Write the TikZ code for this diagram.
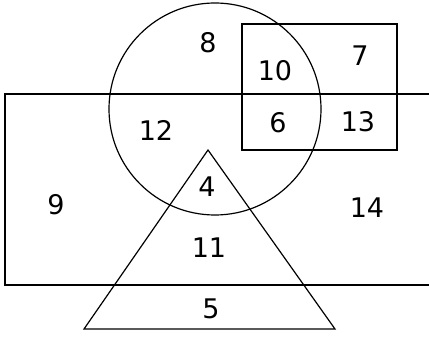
\documentclass[tikz,border=0pt]{standalone}
\usepackage{fontspec}
\setmainfont{DejaVu Sans}
\begin{document}
\begin{tikzpicture}[x=1pt,y=-1pt,
  thick box/.style={draw=black,line width=2.3pt},
  thin shape/.style={draw=black,line width=1.2pt},
  lbl/.style={font=\fontsize{27}{27}\selectfont,inner sep=0pt}]
\useasboundingbox (0,0) rectangle (429,339);
\clip (0,0) rectangle (429,339);
% big rectangle (runs off right edge)
\draw[thick box] (440,94) -- (5,94) -- (5,285) -- (440,285);
% small rectangle
\draw[thick box] (242,24) rectangle (397,150);
% circle
\draw[thin shape] (215,109) circle[radius=106];
% triangle
\coordinate (apex) at (208,150);
\coordinate (bl) at (84,329);
\coordinate (br) at (335,329);
\draw[thin shape] (apex) -- (bl) -- (br) -- cycle;
% labels
\node[lbl] (n8) at (208,43) {8};
\node[lbl] (n10) at (275,71) {10};
\node[lbl] (n7) at (360,56) {7};
\node[lbl] (n12) at (156,130) {12};
\node[lbl] (n6) at (278,123) {6};
\node[lbl] (n13) at (358,122) {13};
\node[lbl] (n9) at (56,205) {9};
\node[lbl] (n4) at (207,187) {4};
\node[lbl] (n14) at (367,208) {14};
\node[lbl] (n11) at (209,248) {11};
\node[lbl] (n5) at (211,309) {5};
\end{tikzpicture}
\end{document}
